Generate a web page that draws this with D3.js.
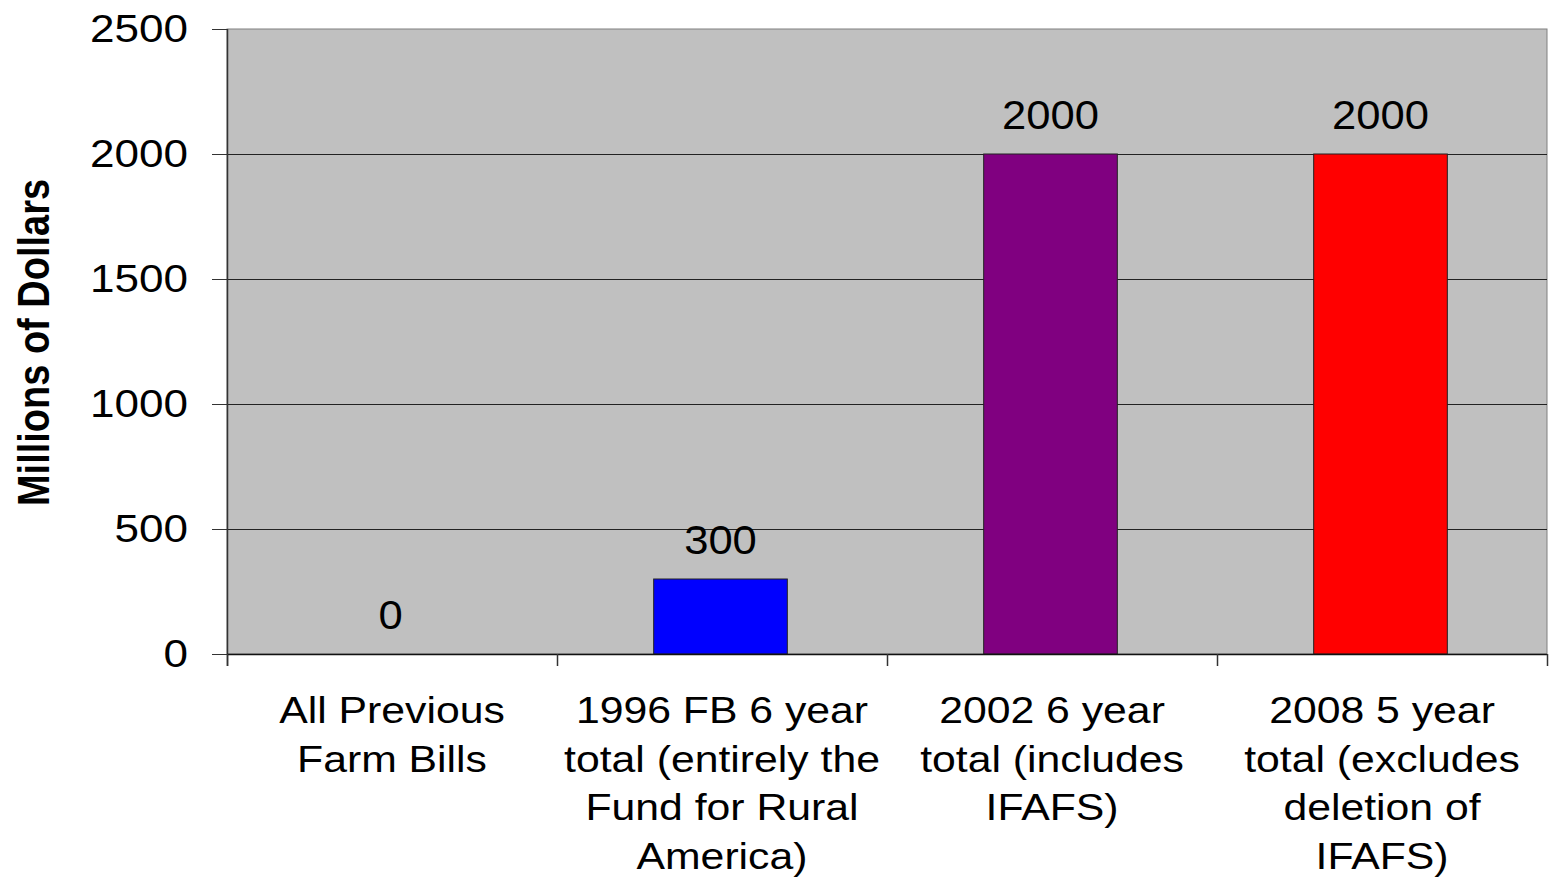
<!DOCTYPE html>
<html>
<head>
<meta charset="utf-8">
<script src="https://cdn.jsdelivr.net/npm/d3@7"></script>
<style>
html,body{margin:0;padding:0;background:#fff;}
svg{display:block;font-family:"Liberation Sans",Arial,sans-serif;}
</style>
</head>
<body>
<svg id="chart" width="1552" height="891"></svg>
<script>
const categories = ["All Previous Farm Bills","1996 FB 6 year total (entirely the Fund for Rural America)","2002 6 year total (includes IFAFS)","2008 5 year total (excludes deletion of IFAFS)"];
const categoryLines = [
  ["All Previous","Farm Bills"],
  ["1996 FB 6 year","total (entirely the","Fund for Rural","America)"],
  ["2002 6 year","total (includes","IFAFS)"],
  ["2008 5 year","total (excludes","deletion of","IFAFS)"]
];
const values = [0, 300, 2000, 2000];
const barColors = ["#0000FF", "#0000FF", "#800080", "#FF0000"];
const yTicks = [0, 500, 1000, 1500, 2000, 2500];
const yTitle = "Millions of Dollars";

const svg = d3.select("#chart");
const L = 227, R = 1547, T = 29, B = 654;

const x = d3.scaleBand().domain(categories).range([L, R]).padding(0);
const y = d3.scaleLinear().domain([0, 2500]).range([B, T]);

// plot background
svg.append("rect").attr("x", L).attr("y", T).attr("width", R - L).attr("height", B - T)
  .attr("fill", "#c0c0c0").attr("stroke", "#808080").attr("stroke-width", 1);

// gridlines
svg.append("g").selectAll("line").data(yTicks.filter(t => t > 0 && t < 2500)).join("line")
  .attr("x1", L).attr("x2", R).attr("y1", d => Math.round(y(d)) + 0.5).attr("y2", d => Math.round(y(d)) + 0.5)
  .attr("stroke", "#222").attr("stroke-width", 1);

// bars
const bw = x.bandwidth() * 0.405;
svg.append("g").selectAll("rect").data(values).join("rect")
  .attr("x", (d, i) => x(categories[i]) + (x.bandwidth() - bw) / 2 - 1.5)
  .attr("y", d => y(d))
  .attr("width", bw)
  .attr("height", d => B - y(d))
  .attr("fill", (d, i) => barColors[i])
  .attr("stroke", d => d > 0 ? "#222" : "none")
  .attr("stroke-width", 1);

// y axis
const yAxis = d3.axisLeft(y).tickValues(yTicks).tickSize(15).tickPadding(24).tickFormat(d3.format("d"));
const gy = svg.append("g").attr("transform", `translate(${L},0)`).call(yAxis);
gy.select(".domain").remove();
gy.selectAll(".tick line").attr("stroke", "#333");
gy.selectAll(".tick text").attr("font-size", 39).attr("fill", "#000")
  .attr("font-family", '"Liberation Sans",Arial,sans-serif')
  .attr("dy", "0.33em")
  .each(function () {
    const t = d3.select(this);
    const xx = +t.attr("x");
    t.attr("x", 0).attr("transform", `translate(${xx},0) scale(1.13,1)`);
  });
svg.append("line").attr("x1", L + 0.5).attr("x2", L + 0.5).attr("y1", T).attr("y2", B + 12)
  .attr("stroke", "#333").attr("stroke-width", 1.5);

// x axis
svg.append("line").attr("x1", L).attr("x2", R).attr("y1", B + 0.5).attr("y2", B + 0.5)
  .attr("stroke", "#111").attr("stroke-width", 1.5);
const boundaries = categories.map(c => x(c)).concat([R]);
svg.append("g").selectAll("line").data(boundaries).join("line")
  .attr("x1", d => d + 0.5).attr("x2", d => d + 0.5).attr("y1", B).attr("y2", B + 12)
  .attr("stroke", "#333").attr("stroke-width", 1.5);

// category labels
const catG = svg.append("g");
categories.forEach((c, i) => {
  const cx = x(c) + x.bandwidth() / 2;
  categoryLines[i].forEach((line, j) => {
    catG.append("text")
      .attr("transform", `translate(${cx},${723 + j * 48.5}) scale(1.155,1)`)
      .attr("text-anchor", "middle").attr("font-size", 37).attr("fill", "#000")
      .text(line);
  });
});

// data labels
svg.append("g").selectAll("text").data(values).join("text")
  .attr("transform", (d, i) => `translate(${x(categories[i]) + x.bandwidth() / 2 - 1.5},${y(d) - 25}) scale(1.09,1)`)
  .attr("text-anchor", "middle").attr("font-size", 40).attr("fill", "#000")
  .text(d => d);

// y title
svg.append("text")
  .attr("transform", `translate(49,${(T + B) / 2 + 1}) scale(1.15,1) rotate(-90)`)
  .attr("text-anchor", "middle").attr("font-size", 38).attr("font-weight", "bold").attr("fill", "#000")
  .text(yTitle);
</script>
</body>
</html>
